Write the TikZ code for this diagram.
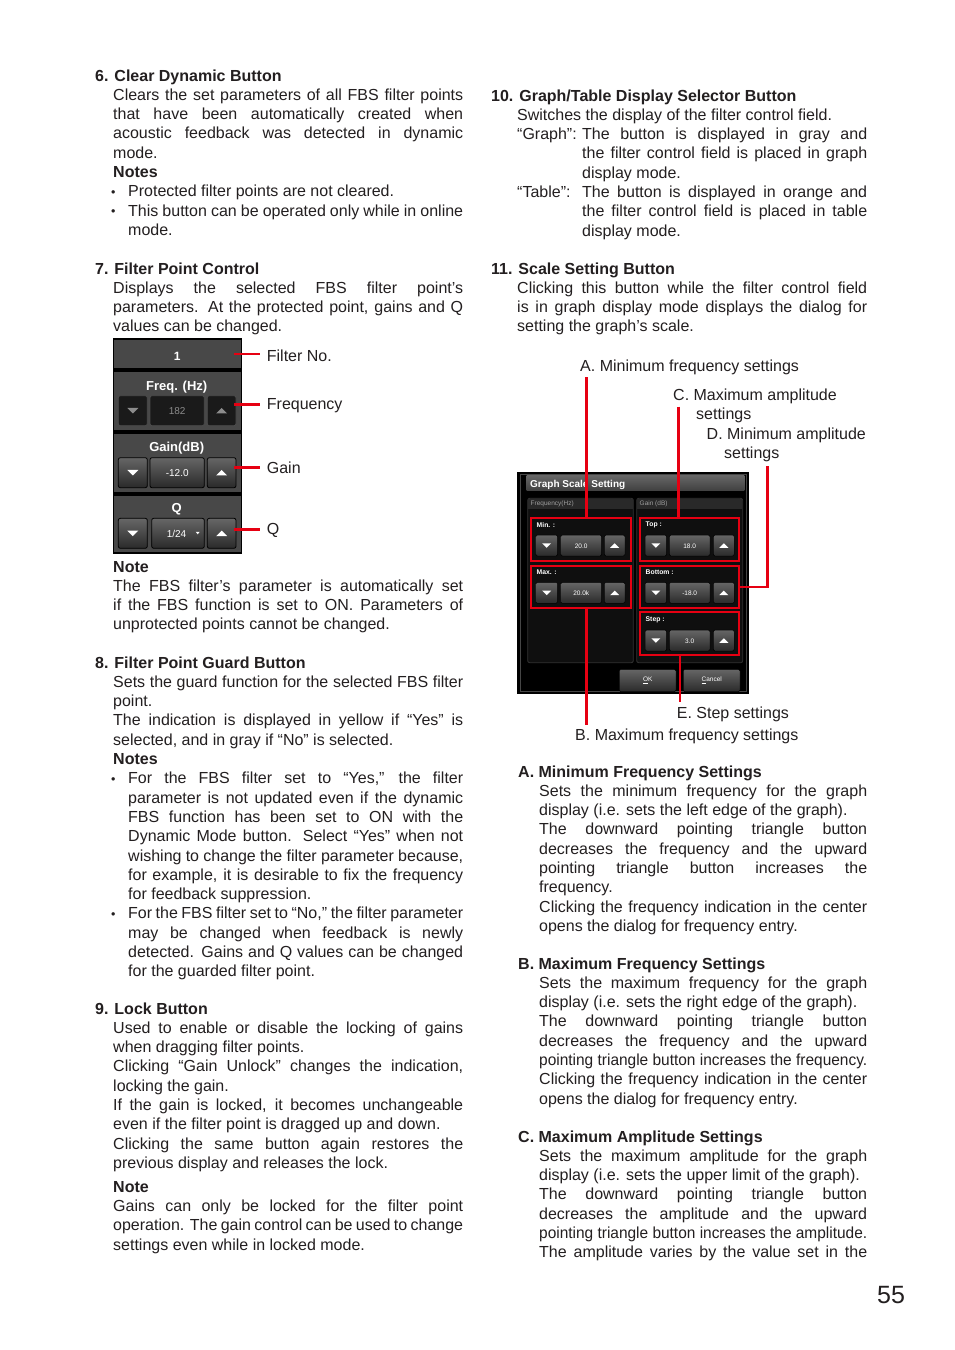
\documentclass[tikz,border=0pt]{standalone}
\usepackage{fontspec}
\setmainfont{Liberation Sans}
\definecolor{txt}{HTML}{231F20}
\definecolor{callred}{HTML}{E60012}
\definecolor{panelgray}{HTML}{484848}
\definecolor{btntop}{HTML}{666666}
\definecolor{btnbot}{HTML}{2A2A2A}
\definecolor{dkbtn}{HTML}{1A1A1A}
\definecolor{dimtxt}{HTML}{8C8C8C}
\newcommand\bodyfont{\fontsize{16}{19.3}\selectfont}
\newcommand\LF[2]{\hbox{\hskip#1\relax#2}}
\newcommand\LJ[3]{\hbox{\hskip#1\relax\hbox to #2{#3}}}
\newcommand\LC[3]{\hbox{\hskip#1\relax\resizebox{#2}{\height}{#3}}}
\newcommand\bulbox{\hbox to 17pt{\raise0.6pt\hbox{\fontsize{12.5}{12.5}\selectfont\textbullet}\hss}}
\newcommand\BF[1]{\hbox{\hskip16pt\relax\bulbox#1}}
\newcommand\BJ[1]{\hbox{\hskip16pt\relax\bulbox\hbox to 335pt{#1}}}
\newcommand\tri[5]{\fill[#5] ({#1-(#3)/2},{#2-(#4)/2}) -- ({#1+(#3)/2},{#2-(#4)/2}) -- ({#1},{#2+(#4)/2}) -- cycle;}
\begin{document}
\begin{tikzpicture}[x=1pt,y=-1pt,
  blk/.style={anchor=base west, inner sep=0pt, text=txt},
  lbl/.style={anchor=base west, inner sep=0pt, text=txt, font=\bodyfont},
  redline/.style={draw=callred, line width=2.5pt},
  redbox/.style={draw=callred, line width=2.2pt, inner sep=0pt, rectangle},
  pbtn/.style={rounded corners=2pt, draw=black, line width=0.8pt, top color=btntop, bottom color=btnbot},
  dbtn/.style={rounded corners=2pt, draw=gray!60!black, line width=0.8pt, fill=dkbtn},
  sbtn/.style={rounded corners=1.5pt, draw=black, line width=0.5pt, top color=btntop, bottom color=btnbot},
  wt/.style={inner sep=0pt, text=white},
]
\useasboundingbox (0,0) rectangle (954,1350);
\fill[white] (0,0) rectangle (954,1350);

% ---------------- left column ----------------
\node[blk] (s6) at (95,81) {\vtop{\bodyfont
 \LF{0pt}{\bfseries 6. Clear Dynamic Button}
 \LJ{18pt}{350pt}{Clears the set parameters of all FBS filter points}
 \LJ{18pt}{350pt}{that have been automatically created when}
 \LJ{18pt}{350pt}{acoustic feedback was detected in dynamic}
 \LF{18pt}{mode.}
 \LF{18pt}{\bfseries Notes}
 \BF{Protected filter points are not cleared.}
 \BJ{This button can be operated only while in online}
 \LF{33pt}{mode.}}};

\node[blk] (s7) at (95,274) {\vtop{\bodyfont
 \LF{0pt}{\bfseries 7. Filter Point Control}
 \LJ{18pt}{350pt}{Displays the selected FBS filter point’s}
 \LJ{18pt}{350pt}{parameters. At the protected point, gains and Q}
 \LF{18pt}{values can be changed.}}};

\node[blk] (s7n) at (95,572) {\vtop{\bodyfont
 \LF{18pt}{\bfseries Note}
 \LJ{18pt}{350pt}{The FBS filter’s parameter is automatically set}
 \LJ{18pt}{350pt}{if the FBS function is set to ON. Parameters of}
 \LF{18pt}{unprotected points cannot be changed.}}};

\node[blk] (s8) at (95,668) {\vtop{\bodyfont
 \LF{0pt}{\bfseries 8. Filter Point Guard Button}
 \LJ{18pt}{350pt}{Sets the guard function for the selected FBS filter}
 \LF{18pt}{point.}
 \LJ{18pt}{350pt}{The indication is displayed in yellow if “Yes” is}
 \LF{18pt}{selected, and in gray if “No” is selected.}
 \LF{18pt}{\bfseries Notes}
 \BJ{For the FBS filter set to “Yes,” the filter}
 \LJ{33pt}{335pt}{parameter is not updated even if the dynamic}
 \LJ{33pt}{335pt}{FBS function has been set to ON with the}
 \LJ{33pt}{335pt}{Dynamic Mode button. Select “Yes” when not}
 \LJ{33pt}{335pt}{wishing to change the filter parameter because,}
 \LJ{33pt}{335pt}{for example, it is desirable to fix the frequency}
 \LF{33pt}{for feedback suppression.}
 \BJ{For the FBS filter set to “No,” the filter parameter}
 \LJ{33pt}{335pt}{may be changed when feedback is newly}
 \LJ{33pt}{335pt}{detected. Gains and Q values can be changed}
 \LF{33pt}{for the guarded filter point.}}};

\node[blk] (s9) at (95,1014) {\vtop{\bodyfont
 \LF{0pt}{\bfseries 9. Lock Button}
 \LJ{18pt}{350pt}{Used to enable or disable the locking of gains}
 \LF{18pt}{when dragging filter points.}
 \LJ{18pt}{350pt}{Clicking “Gain Unlock” changes the indication,}
 \LF{18pt}{locking the gain.}
 \LJ{18pt}{350pt}{If the gain is locked, it becomes unchangeable}
 \LF{18pt}{even if the filter point is dragged up and down.}
 \LJ{18pt}{350pt}{Clicking the same button again restores the}
 \LF{18pt}{previous display and releases the lock.}
 \vskip4.5pt
 \LF{18pt}{\bfseries Note}
 \LJ{18pt}{350pt}{Gains can only be locked for the filter point}
 \LJ{18pt}{350pt}{operation. The gain control can be used to change}
 \LF{18pt}{settings even while in locked mode.}}};

% ---------------- right column ----------------
\node[blk] (s10) at (491,101) {\vtop{\bodyfont
 \LF{0pt}{\bfseries 10. Graph/Table Display Selector Button}
 \LF{26pt}{Switches the display of the filter control field.}
 \hbox{\hskip26pt\relax\hbox to 65pt{“Graph”:\hss}\hbox to 285pt{The button is displayed in gray and}}
 \LJ{91pt}{285pt}{the filter control field is placed in graph}
 \LF{91pt}{display mode.}
 \hbox{\hskip26pt\relax\hbox to 65pt{“Table”:\hss}\hbox to 285pt{The button is displayed in orange and}}
 \LJ{91pt}{285pt}{the filter control field is placed in table}
 \LF{91pt}{display mode.}}};

\node[blk] (s11) at (491,274) {\vtop{\bodyfont
 \LF{0pt}{\bfseries 11. Scale Setting Button}
 \LJ{26pt}{350pt}{Clicking this button while the filter control field}
 \LJ{26pt}{350pt}{is in graph display mode displays the dialog for}
 \LF{26pt}{setting the graph’s scale.}}};

\node[blk] (sA) at (518,777) {\vtop{\bodyfont
 \LF{0pt}{\bfseries A. Minimum Frequency Settings}
 \LJ{21pt}{328pt}{Sets the minimum frequency for the graph}
 \LF{21pt}{display (i.e. sets the left edge of the graph).}
 \LJ{21pt}{328pt}{The downward pointing triangle button}
 \LJ{21pt}{328pt}{decreases the frequency and the upward}
 \LJ{21pt}{328pt}{pointing triangle button increases the}
 \LF{21pt}{frequency.}
 \LJ{21pt}{328pt}{Clicking the frequency indication in the center}
 \LF{21pt}{opens the dialog for frequency entry.}}};

\node[blk] (sB) at (518,969) {\vtop{\bodyfont
 \LF{0pt}{\bfseries B. Maximum Frequency Settings}
 \LJ{21pt}{328pt}{Sets the maximum frequency for the graph}
 \LF{21pt}{display (i.e. sets the right edge of the graph).}
 \LJ{21pt}{328pt}{The downward pointing triangle button}
 \LJ{21pt}{328pt}{decreases the frequency and the upward}
 \LC{21pt}{328pt}{pointing triangle button increases the frequency.}
 \LJ{21pt}{328pt}{Clicking the frequency indication in the center}
 \LF{21pt}{opens the dialog for frequency entry.}}};

\node[blk] (sC) at (518,1142) {\vtop{\bodyfont
 \LF{0pt}{\bfseries C. Maximum Amplitude Settings}
 \LJ{21pt}{328pt}{Sets the maximum amplitude for the graph}
 \LF{21pt}{display (i.e. sets the upper limit of the graph).}
 \LJ{21pt}{328pt}{The downward pointing triangle button}
 \LJ{21pt}{328pt}{decreases the amplitude and the upward}
 \LC{21pt}{328pt}{pointing triangle button increases the amplitude.}
 \LJ{21pt}{328pt}{The amplitude varies by the value set in the}}};

\node[anchor=base west, inner sep=0pt, text=txt, font=\fontsize{25}{25}\selectfont] (pg) at (877,1303) {55};

% ---------------- filter point control panel ----------------
\fill[black] (112.7,338.3) rectangle (242.3,554);
\foreach \a/\b in {340/368.3, 372.3/430, 434/491.7, 496/552.3}
  \fill[panelgray] (114,\a) rectangle (240.7,\b);
\node[wt, font=\bfseries\fontsize{12}{12}\selectfont] (pNo) at (177.3,356.7) {1};
\node[wt, font=\bfseries\fontsize{13}{13}\selectfont] (pFreq) at (176.7,387.3) {Freq. (Hz)};
\node[wt, font=\bfseries\fontsize{13}{13}\selectfont] (pGain) at (176.7,448.3) {Gain(dB)};
\node[wt, font=\bfseries\fontsize{13}{13}\selectfont] (pQ) at (176.7,509.5) {Q};
% freq row (dim)
\draw[dbtn] (118.3,395.7) rectangle (147.3,425.7);
\draw[dbtn] (150,395.7) rectangle (204.3,425.7);
\draw[dbtn] (207.3,395.7) rectangle (236,425.7);
\tri{132.8}{410.7}{11}{5.5}{dimtxt}
\tri{221.7}{410.7}{11}{-5.5}{dimtxt}
\node[inner sep=0pt, text=dimtxt, font=\fontsize{10}{10}\selectfont] (vFreq) at (177.2,411) {182};
% gain row
\draw[pbtn] (118.3,457.7) rectangle (147.3,487.7);
\draw[pbtn] (150,457.7) rectangle (204.3,487.7);
\draw[pbtn] (207.3,457.7) rectangle (236,487.7);
\tri{132.8}{472.7}{11}{5.5}{white}
\tri{221.7}{472.7}{11}{-5.5}{white}
\node[wt, font=\fontsize{10}{10}\selectfont] (vGain) at (177.2,473) {-12.0};
% Q row
\draw[pbtn] (118.3,518.3) rectangle (147.3,548.3);
\draw[pbtn] (151.7,518.3) rectangle (204.3,548.3);
\draw[pbtn] (207.3,518.3) rectangle (236,548.3);
\tri{132.8}{533.3}{11}{5.5}{white}
\tri{221.7}{533.3}{11}{-5.5}{white}
\node[wt, font=\fontsize{10}{10}\selectfont] (vQ) at (176.5,533.6) {1/24};
\tri{197.7}{533}{4}{2.5}{white}
% callouts
\node[lbl] (lFilt) at (266.7,361.5) {Filter No.};
\node[lbl] (lFreq) at (266.7,409) {Frequency};
\node[lbl] (lGain) at (266.7,473) {Gain};
\node[lbl] (lQ) at (266.7,534) {Q};
\coordinate (cNo) at (234.3,354);
\coordinate (cFr) at (234.3,404.3);
\coordinate (cGa) at (234.3,467.7);
\coordinate (cQ) at (234.3,529.3);
\draw[redline, shorten >=6.5pt] (cNo) -- (cNo -| lFilt.west);
\draw[redline, shorten >=6.5pt] (cFr) -- (cFr -| lFreq.west);
\draw[redline, shorten >=6.5pt] (cGa) -- (cGa -| lGain.west);
\draw[redline, shorten >=6.5pt] (cQ) -- (cQ -| lQ.west);

% ---------------- graph scale setting dialog ----------------
\fill[black] (517,472) rectangle (749,694);
\draw[gray!55!black, line width=0.6pt] (520.5,474.5) rectangle (746.5,691.5);
\shade[top color=gray!80!black, bottom color=gray!50!black] (526.7,475.5) rectangle (744.3,490.7);
\node[anchor=base west, inner sep=0pt, text=white, font=\bfseries\fontsize{10}{10}\selectfont] (dTitle) at (530,487.3) {Graph Scale Setting};
\draw[gray!40!black, fill=black!94!white, rounded corners=2pt, line width=0.8pt] (527.7,498.3) rectangle (633.3,662.7);
\draw[gray!40!black, fill=black!94!white, rounded corners=2pt, line width=0.8pt] (636.7,498.3) rectangle (742.7,662.7);
\fill[gray!32!black] (528.3,498.9) rectangle (632.7,509.3);
\fill[gray!32!black] (637.3,498.9) rectangle (742.1,509.3);
\node[anchor=west, inner sep=0pt, text=gray!75!white, font=\fontsize{6.5}{6.5}\selectfont] (gF) at (530.5,504) {Frequency(Hz)};
\node[anchor=west, inner sep=0pt, text=gray!75!white, font=\fontsize{6.5}{6.5}\selectfont] (gG) at (639.5,504) {Gain (dB)};
% buttons
\foreach \ya/\yb in {535/556, 582.3/603.3} {
  \draw[sbtn] (535.7,\ya) rectangle (557.7,\yb);
  \draw[sbtn] (560.7,\ya) rectangle (601.7,\yb);
  \draw[sbtn] (604.3,\ya) rectangle (625,\yb);
  \tri{546.7}{(\ya+\yb)/2}{9}{4.5}{white}
  \tri{614.7}{(\ya+\yb)/2}{9}{-4.5}{white}
}
\foreach \ya/\yb in {535/556, 582.3/603.3, 630/651} {
  \draw[sbtn] (645,\ya) rectangle (666.7,\yb);
  \draw[sbtn] (669.3,\ya) rectangle (710,\yb);
  \draw[sbtn] (713.3,\ya) rectangle (734.3,\yb);
  \tri{655.9}{(\ya+\yb)/2}{9}{4.5}{white}
  \tri{723.8}{(\ya+\yb)/2}{9}{-4.5}{white}
}
\tikzset{dv/.style={wt, font=\fontsize{6.5}{6.5}\selectfont}, dl/.style={wt, anchor=west, font=\bfseries\fontsize{6.8}{6.8}\selectfont}}
\node[dv] (vMin) at (581.2,545.8) {20.0};
\node[dv] (vMax) at (581.2,593.1) {20.0k};
\node[dv] (vTop) at (689.7,545.8) {18.0};
\node[dv] (vBot) at (689.7,593.1) {-18.0};
\node[dv] (vStep) at (689.7,640.8) {3.0};
\node[dl] (tMin) at (536.5,525) {Min. :};
\node[dl] (tMax) at (536.5,572.3) {Max. :};
\node[dl] (tTop) at (645.5,525) {Top :};
\node[dl] (tBot) at (645.5,572.3) {Bottom :};
\node[dl] (tStep) at (645.5,620) {Step :};
\draw[sbtn] (619.3,669.3) rectangle (676,691.7);
\draw[sbtn] (683.3,669.3) rectangle (740,691.7);
\node[dv] (bOK) at (647.7,680.5) {\underline{O}K};
\node[dv] (bCan) at (711.7,680.5) {\underline{C}ancel};
% red frames
\node[redbox, minimum width=100pt, minimum height=43pt] (boxMin) at (581,539.2) {};
\node[redbox, minimum width=100pt, minimum height=42.3pt] (boxMax) at (581,587.15) {};
\node[redbox, minimum width=99.3pt, minimum height=43pt] (boxTop) at (689.65,539.2) {};
\node[redbox, minimum width=99.3pt, minimum height=42.3pt] (boxBot) at (689.65,587.15) {};
\node[redbox, minimum width=99.3pt, minimum height=43.3pt] (boxStep) at (689.65,633.35) {};
% callout labels
\node[lbl] (lA) at (580,371) {A. Minimum frequency settings};
\node[lbl] (lC1) at (673,400) {C. Maximum amplitude};
\node[lbl] (lC2) at (696,419) {settings};
\node[lbl] (lD1) at (706.5,439.3) {D. Minimum amplitude};
\node[lbl] (lD2) at (724,458.3) {settings};
\node[lbl] (lE) at (676.7,718.7) {E. Step settings};
\node[lbl] (lB) at (575,740.5) {B. Maximum frequency settings};
\coordinate (aT) at (586.7,377);
\coordinate (bB) at (586.7,725);
\coordinate (cT) at (678.3,406.7);
\coordinate (dT) at (767.3,466);
\coordinate (eB) at (680,702);
\draw[redline] (aT) -- (aT |- boxMin.north);
\draw[redline] (bB |- boxMax.south) -- (bB);
\draw[redline] (cT) -- (cT |- boxTop.north);
\draw[redline] (dT) |- (boxBot.east);
\draw[redline] (eB |- boxStep.south) -- (eB);
\end{tikzpicture}
\end{document}
